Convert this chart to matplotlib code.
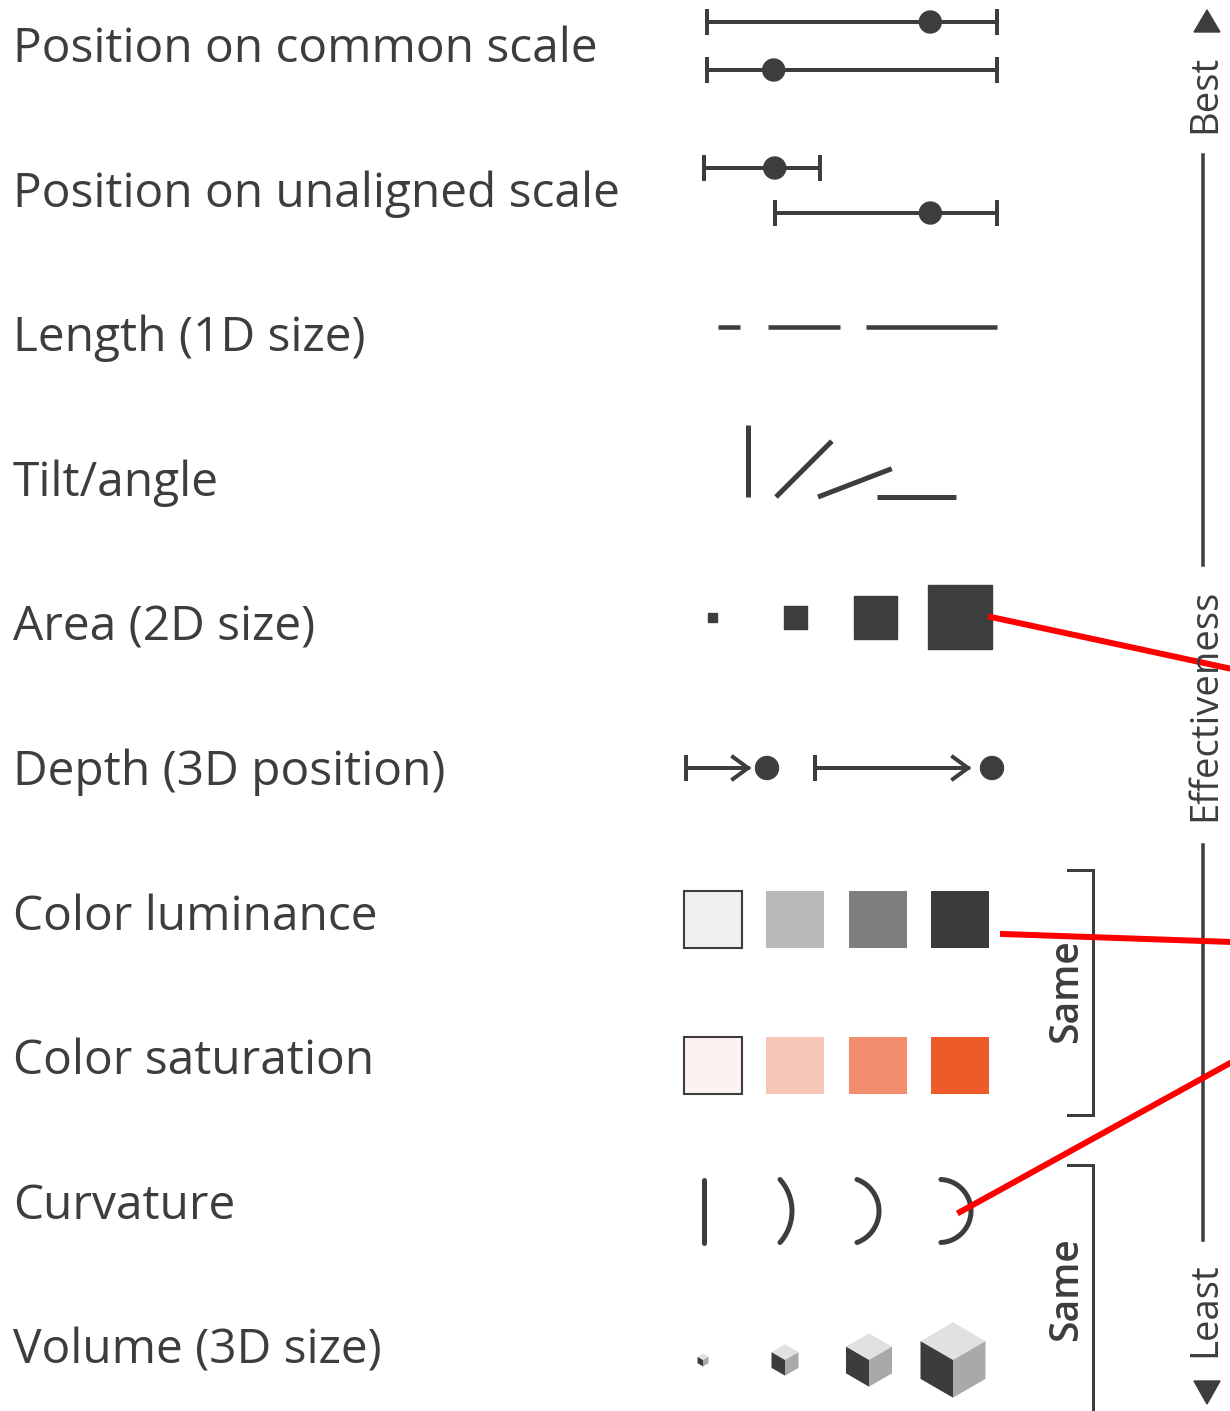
import numpy as np
import matplotlib.pyplot as plt
from matplotlib.patches import Rectangle, Polygon, Circle

# Channel names, ranked from best to least effective
labels = ["Position on common scale", "Position on unaligned scale",
          "Length (1D size)", "Tilt/angle", "Area (2D size)",
          "Depth (3D position)", "Color luminance", "Color saturation",
          "Curvature", "Volume (3D size)"]

common_dots = [0.77, 0.23]          # dot position along a shared scale
unaligned_dots = [0.61, 0.70]       # dot position along each own scale
lengths = [22, 72, 131]
tilt_angles = [90, 45, 21, 0]
area_sides = [9, 23, 43, 64]
depth_lengths = [62, 153]
luminance = ["#eef0f1", "#b9b9bc", "#7e7e81", "#3b3b3b"]
saturation = ["#fdf2ef", "#f8c6b7", "#f38d70", "#ef5a2b"]
curv_sagitta = [0, 12, 22, 33]
cube_widths = [11, 27, 46, 65]

INK = "#3d3d3d"
W, H = 1230, 1411

fig = plt.figure(figsize=(W / 100, H / 100), dpi=100)
ax = fig.add_axes([0, 0, 1, 1])
ax.set_xlim(0, W)
ax.set_ylim(H, 0)
ax.axis("off")

px = 0.72  # points per pixel
baselines = [62 + 144.6 * i for i in range(len(labels))]

for y, lab in zip(baselines, labels):
    ax.text(13, y, lab, fontsize=34.5, family="Open Sans", color=INK,
            va="baseline", ha="left")


def scale_bar(x0, x1, y, frac):
    ax.plot([x0, x1], [y, y], color=INK, lw=4 * px, solid_capstyle="butt")
    for xe in (x0, x1):
        ax.plot([xe, xe], [y - 11, y + 11], color=INK, lw=4 * px)
    ax.add_patch(Circle((x0 + frac * (x1 - x0), y), 11, color=INK))


# Position on common scale
scale_bar(707, 997, 22, common_dots[0])
scale_bar(707, 997, 70, common_dots[1])

# Position on unaligned scale
scale_bar(704, 820, 168, unaligned_dots[0])
scale_bar(775, 997, 213, unaligned_dots[1])

# Length
x = 718
gaps = [28, 26]
for i, ln in enumerate(lengths):
    ax.plot([x, x + ln], [327, 327], color=INK, lw=4.5 * px,
            solid_capstyle="butt")
    if i < len(gaps):
        x += ln + gaps[i]

# Tilt / angle
tilt_x = [748, 776, 818, 877]
for x0, ang in zip(tilt_x, tilt_angles):
    r = np.radians(ang)
    ln = 72 if ang == 90 else 79
    ax.plot([x0, x0 + ln * np.cos(r)], [497, 497 - ln * np.sin(r)],
            color=INK, lw=5 * px, solid_capstyle="butt")

# Area
area_x = [712, 795, 875, 960]
for cx, s in zip(area_x, area_sides):
    ax.add_patch(Rectangle((cx - s / 2, 617 - s / 2), s, s, color=INK))

# Depth
for x0, ln, dot in zip([686, 815], depth_lengths, [767, 992]):
    y = 768
    tip = x0 + ln
    ax.plot([x0, tip], [y, y], color=INK, lw=4 * px)
    ax.plot([x0, x0], [y - 11, y + 11], color=INK, lw=4 * px)
    ax.plot([tip - 15, tip, tip - 15], [y - 11, y, y + 11], color=INK,
            lw=4 * px, solid_joinstyle="miter")
    ax.add_patch(Circle((dot, y), 11.5, color=INK))

# Color luminance / saturation
sq_x = [684, 766, 849, 931]
for i, (cl, cs) in enumerate(zip(luminance, saturation)):
    ec = INK if i == 0 else "none"
    ax.add_patch(Rectangle((sq_x[i], 891), 58, 57, fc=cl, ec=ec, lw=1.5))
    ax.add_patch(Rectangle((sq_x[i], 1037), 58, 57, fc=cs, ec=ec, lw=1.5))

# Curvature
curv_x = [704, 780, 857, 938]
chord = 63
yc = 1211
for x0, s in zip(curv_x, curv_sagitta):
    if s == 0:
        ax.plot([x0, x0], [yc - chord / 2, yc + chord / 2], color=INK,
                lw=5 * px, solid_capstyle="round")
        continue
    rad = (chord ** 2 / 4 + s ** 2) / (2 * s)
    half = np.arcsin((chord / 2) / rad)
    t = np.linspace(-half, half, 60)
    cx = x0 + s - rad
    ax.plot(cx + rad * np.cos(t), yc + rad * np.sin(t), color=INK,
            lw=5 * px, solid_capstyle="round")

# Volume (isometric cubes)
cube_x = [703, 785, 869, 953]
for cx, w in zip(cube_x, cube_widths):
    a = w / 2
    t = 0.29 * w
    e = 0.58 * w
    y0 = 1360 - (2 * t + e) / 2
    top = (cx, y0)
    lt = (cx - a, y0 + t)
    rt = (cx + a, y0 + t)
    c = (cx, y0 + 2 * t)
    lb = (cx - a, y0 + t + e)
    rb = (cx + a, y0 + t + e)
    b = (cx, y0 + 2 * t + e)
    ax.add_patch(Polygon([top, rt, c, lt], fc="#dfe1e2", ec="none"))
    ax.add_patch(Polygon([lt, c, b, lb], fc="#3c3c3c", ec="none"))
    ax.add_patch(Polygon([c, rt, rb, b], fc="#a9a9aa", ec="none"))

# "Same" brackets
ax.plot([1068, 1093, 1093, 1068], [870, 870, 1115, 1115], color=INK,
        lw=3 * px, solid_joinstyle="miter")
ax.plot([1068, 1093, 1093], [1165, 1165, 1420], color=INK, lw=3 * px,
        solid_joinstyle="miter")
for y in (991, 1289):
    ax.text(1067, y, "Same", rotation=90, fontsize=28, family="Open Sans",
            weight="semibold", color=INK, ha="center", va="center")

# Effectiveness axis
ax.plot([1203, 1203], [155, 565], color=INK, lw=3.5 * px)
ax.plot([1203, 1203], [845, 1240], color=INK, lw=3.5 * px)
ax.add_patch(Polygon([(1194, 32), (1220, 32), (1207, 10)], color=INK))
ax.add_patch(Polygon([(1194, 1381), (1220, 1381), (1207, 1404)], color=INK))
ax.text(1205, 94, "Best", rotation=90, fontsize=27.5, family="Open Sans",
        color=INK, ha="center", va="center")
ax.text(1205, 705, "Effectiveness", rotation=90, fontsize=27.5,
        family="Open Sans", color=INK, ha="center", va="center")
ax.text(1205, 1310, "Least", rotation=90, fontsize=27.5, family="Open Sans",
        color=INK, ha="center", va="center")

# Red annotation lines
ax.plot([991, 1232], [617, 669], color="red", lw=6 * px)
ax.plot([1003, 1232], [934, 942], color="red", lw=6 * px)
ax.plot([960, 1232], [1212, 1062], color="red", lw=6 * px)

fig.savefig("out.png", dpi=100)
